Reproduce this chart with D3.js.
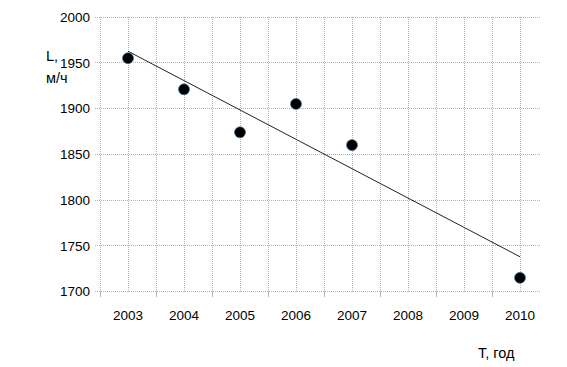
<!DOCTYPE html>
<html>
<head>
<meta charset="utf-8">
<script src="https://cdn.jsdelivr.net/npm/d3@7/dist/d3.min.js"></script>
<style>
  html, body { margin: 0; padding: 0; background: #fff; }
  svg text { font-family: "Liberation Sans", Arial, sans-serif; font-size: 13.5px; fill: #000; }
  svg text.title { font-size: 14.5px; }
</style>
</head>
<body>
<div id="chart"></div>
<script>
// категории (годы) и значения L, м/ч
const years = ['2003', '2004', '2005', '2006', '2007', '2008', '2009', '2010'];
const pointYears = ['2003', '2004', '2005', '2006', '2007', '2010'];
const pointValues = [1955, 1921, 1874, 1905, 1860, 1715];
const yTicks = [1700, 1750, 1800, 1850, 1900, 1950, 2000];

const width = 567, height = 367;
const plotLeft = 100, plotTop = 17, plotBottom = 291.5, gridRight = 541;

const svg = d3.select('#chart').append('svg')
    .attr('width', width).attr('height', height);

const x = d3.scaleBand().domain(years).range([plotLeft, plotLeft + 56 * years.length]).padding(0);
const y = d3.scaleLinear().domain([1700, 2000]).range([plotBottom, plotTop]);
const cx = d => x(d) + x.bandwidth() / 2;

// сетка: горизонтальные линии
svg.append('g').selectAll('line').data(yTicks).enter().append('line')
    .attr('x1', plotLeft - 5).attr('x2', gridRight)
    .attr('y1', d => y(d)).attr('y2', d => y(d))
    .attr('stroke', '#b4b4b4').attr('stroke-width', 1).attr('stroke-dasharray', '1,1')
    .attr('shape-rendering', 'crispEdges');

// сетка: вертикальные линии по центрам и границам категорий
const vLines = [];
years.forEach(yr => { vLines.push(x(yr)); vLines.push(cx(yr)); });
svg.append('g').selectAll('line').data(vLines).enter().append('line')
    .attr('x1', d => d).attr('x2', d => d)
    .attr('y1', plotTop).attr('y2', plotBottom)
    .attr('stroke', '#b4b4b4').attr('stroke-width', 1).attr('stroke-dasharray', '1,1')
    .attr('shape-rendering', 'crispEdges');

// засечки оси X на границах категорий
svg.append('g').selectAll('line').data(years).enter().append('line')
    .attr('x1', d => x(d)).attr('x2', d => x(d))
    .attr('y1', plotBottom).attr('y2', plotBottom + 5)
    .attr('stroke', '#b4b4b4').attr('stroke-width', 1)
    .attr('shape-rendering', 'crispEdges');

// ось Y
const yAxis = svg.append('g').attr('transform', `translate(${plotLeft},0)`)
    .call(d3.axisLeft(y).tickValues(yTicks).tickSize(0).tickPadding(10).tickFormat(d3.format('d')));
yAxis.select('.domain').remove();
yAxis.selectAll('text').attr('fill', '#000');

// ось X (подписи по центрам)
const xAxis = svg.append('g').attr('transform', `translate(0,${plotBottom})`)
    .call(d3.axisBottom(x).tickSize(0).tickPadding(19));
xAxis.select('.domain').remove();
xAxis.selectAll('text').attr('fill', '#000');

// линия тренда (линейная, по методу наименьших квадратов)
const xs = pointYears.map(d => +d), n = xs.length;
const mx = d3.mean(xs), my = d3.mean(pointValues);
const slope = d3.sum(xs.map((v, i) => (v - mx) * (pointValues[i] - my))) / d3.sum(xs.map(v => (v - mx) ** 2));
const trend = yr => my + slope * (+yr - mx);
const ends = [pointYears[0], pointYears[n - 1]];
svg.append('line')
    .attr('x1', cx(ends[0])).attr('y1', y(trend(ends[0])))
    .attr('x2', cx(ends[1])).attr('y2', y(trend(ends[1])))
    .attr('stroke', '#222').attr('stroke-width', 1);

// точки
svg.append('g').selectAll('circle').data(pointYears).enter().append('circle')
    .attr('cx', d => cx(d)).attr('cy', (d, i) => y(pointValues[i]))
    .attr('r', 5.5).attr('fill', '#000').attr('stroke', '#3d6ea8').attr('stroke-width', 0.7);

// подписи осей
svg.append('text').attr('class', 'title').attr('x', 46).attr('y', 61).text('L,');
svg.append('text').attr('class', 'title').attr('x', 46).attr('y', 83).text('м/ч');
svg.append('text').attr('class', 'title').attr('x', 478).attr('y', 358).text('T, год');
</script>
</body>
</html>
